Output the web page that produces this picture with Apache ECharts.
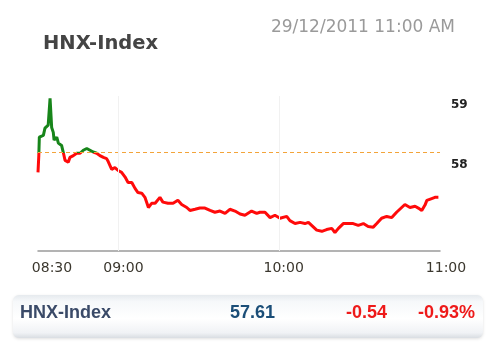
<!DOCTYPE html>
<html>
<head>
<meta charset="utf-8">
<script src="https://cdn.jsdelivr.net/npm/echarts@6/dist/echarts.min.js"></script>
<style>html,body{margin:0;padding:0;background:#fff;}#c{width:500px;height:357px;}</style>
</head>
<body>
<div id="c"></div>
<script>
var chartTitle = 'HNX-Index';
var dateText = '29/12/2011 11:00 AM';
var xTickMinutes = [0, 30, 90, 150];
var xTickLabels = ['08:30', '09:00', '10:00', '11:00'];
var yTicks = [58, 59];
var refValue = 58.15;
var minutes = [0,0.3,0.5,0.8,2.0,2.6,3.8,4.5,5.1,5.7,6.0,7.0,7.6,8.8,9.4,10.1,11.3,11.9,12.6,13.2,14.4,15.7,16.9,18.2,19.4,20.6,21.9,23.1,24.4,25.6,26.2,27.5,28.7,29.9,31.2,32.5,33.6,35.0,36.2,37.3,38.7,39.9,41.2,42.4,43.7,45.5,46.6,48.5,50.4,52.2,53.6,55.5,56.7,58.6,60.4,62.3,64.2,66.0,67.9,69.8,71.6,73.5,75.4,77.2,79.7,81.6,82.8,84.7,86.6,88.4,90.3,92.8,94.0,95.9,97.8,99.6,100.9,102.1,104.0,105.9,107.7,109.6,110.8,112.1,113.9,115.8,117.6,119.5,121.4,123.2,125.1,126.4,128.2,130.1,132.0,133.8,135.7,136.9,138.8,140.7,141.9,143.2,144.4,145.1,146.9,148.1,149.4];
var values = [57.82,58.10,58.41,58.44,58.44,58.56,58.61,59.06,58.57,58.49,58.36,58.41,58.31,58.27,58.16,58.02,57.99,58.07,58.05,58.10,58.14,58.14,58.19,58.22,58.19,58.16,58.14,58.10,58.07,58.05,58.00,57.87,57.90,57.85,57.82,57.74,57.65,57.65,57.55,57.48,57.47,57.40,57.23,57.30,57.30,57.40,57.32,57.30,57.30,57.35,57.28,57.23,57.18,57.20,57.22,57.22,57.18,57.15,57.17,57.13,57.20,57.17,57.12,57.10,57.17,57.13,57.15,57.15,57.06,57.10,57.05,57.08,57.01,56.96,56.98,56.96,56.98,56.93,56.85,56.83,56.86,56.88,56.81,56.88,56.96,56.96,56.96,56.93,56.96,56.91,56.90,56.96,57.05,57.08,57.06,57.15,57.23,57.28,57.23,57.25,57.22,57.18,57.27,57.35,57.38,57.40,57.40];
var footerName = 'HNX-Index';
var footerValue = '57.61';
var footerChange = '-0.54';
var footerPct = '-0.93%';

var seriesData = minutes.map(function (m, i) { return [m, values[i]]; });
var labelMap = {};
xTickMinutes.forEach(function (m, i) { labelMap[m] = i; });
var richNames = ['l0', 'l1', 'l2', 'l3'];
var labelPads = [28, 10, 9, 12];
var rich = {};
richNames.forEach(function (n, i) {
  rich[n] = { padding: [0, 0, 0, labelPads[i]], fontFamily: 'DejaVu Sans', fontSize: 14, color: '#3b372e' };
});

var chart = echarts.init(document.getElementById('c'), null, { renderer: 'canvas' });
chart.setOption({
  animation: false,
  backgroundColor: '#ffffff',
  grid: { left: 38, right: 60, top: 96, bottom: 106 },
  xAxis: {
    type: 'value', min: 0, max: 150, interval: 30,
    axisLine: { show: true, lineStyle: { color: '#9a9a9a', width: 1.5 } },
    axisTick: { show: false },
    splitLine: { show: false },
    axisLabel: {
      margin: 10, showMinLabel: true, showMaxLabel: true,
      formatter: function (v) {
        var i = labelMap[v];
        if (i === undefined) return '';
        return '{' + richNames[i] + '|' + xTickLabels[i] + '}';
      },
      rich: rich
    }
  },
  yAxis: {
    type: 'value', min: 56.5, max: 59.1, interval: 0.5, position: 'right',
    axisLine: { show: false }, axisTick: { show: false },
    splitLine: { show: false },
    axisLabel: {
      margin: 11,
      formatter: function (v) {
        var r = Math.round(v * 100) / 100;
        return yTicks.indexOf(r) >= 0 ? '{t|' + r + '}' : '';
      },
      rich: { t: { fontFamily: 'DejaVu Sans', fontSize: 12, fontWeight: 'bold', color: '#222', padding: [6, 0, 0, 0] } }
    }
  },
  visualMap: {
    show: false, type: 'piecewise', dimension: 1, seriesIndex: 0,
    pieces: [{ gt: 40, lte: refValue, color: '#ff0a0a' }, { gt: refValue, lte: 80, color: '#17851a' }]
  },
  series: [{
    type: 'line', data: seriesData, showSymbol: false, symbol: 'none',
    lineStyle: { width: 3 },
    markLine: {
      silent: true, symbol: 'none', label: { show: false },
      data: [
        { yAxis: refValue, lineStyle: { color: '#f3a43a', type: [4, 3], width: 1 } },
        { xAxis: 30, lineStyle: { color: '#f1f1f1', type: 'solid', width: 1 } },
        { xAxis: 90, lineStyle: { color: '#f1f1f1', type: 'solid', width: 1 } }
      ]
    }
  }],
  graphic: [
    { type: 'text', left: 43, top: 34, style: { text: chartTitle, font: 'bold 19.5px "DejaVu Sans"', fill: '#444444' } },
    { type: 'text', right: 45, top: 19, style: { text: dateText, font: '17px "DejaVu Sans"', fill: '#9a9a9a' } },
    {
      type: 'rect', shape: { x: 13, y: 295, width: 470, height: 43, r: 6 },
      style: {
        fill: new echarts.graphic.LinearGradient(0, 0, 0, 1, [
          { offset: 0, color: '#e6eaee' },
          { offset: 0.15, color: '#f6f8fa' },
          { offset: 0.55, color: '#ffffff' },
          { offset: 0.88, color: '#f0f2f5' },
          { offset: 1, color: '#d9dde2' }
        ]),
        shadowBlur: 3, shadowColor: 'rgba(0,0,0,0.12)', shadowOffsetY: 1
      }
    },
    { type: 'text', x: 20, y: 313, style: { text: footerName, font: 'bold 18px "Liberation Sans"', fill: '#3a4a68', verticalAlign: 'middle', textVerticalAlign: 'middle' } },
    { type: 'text', x: 275, y: 313, style: { text: footerValue, font: 'bold 18px "Liberation Sans"', fill: '#1b4e78', align: 'right', textAlign: 'right', verticalAlign: 'middle', textVerticalAlign: 'middle' } },
    { type: 'text', x: 387, y: 313, style: { text: footerChange, font: 'bold 18px "Liberation Sans"', fill: '#ee1a1a', align: 'right', textAlign: 'right', verticalAlign: 'middle', textVerticalAlign: 'middle' } },
    { type: 'text', x: 475, y: 313, style: { text: footerPct, font: 'bold 18px "Liberation Sans"', fill: '#ee1a1a', align: 'right', textAlign: 'right', verticalAlign: 'middle', textVerticalAlign: 'middle' } }
  ]
});
</script>
</body>
</html>
